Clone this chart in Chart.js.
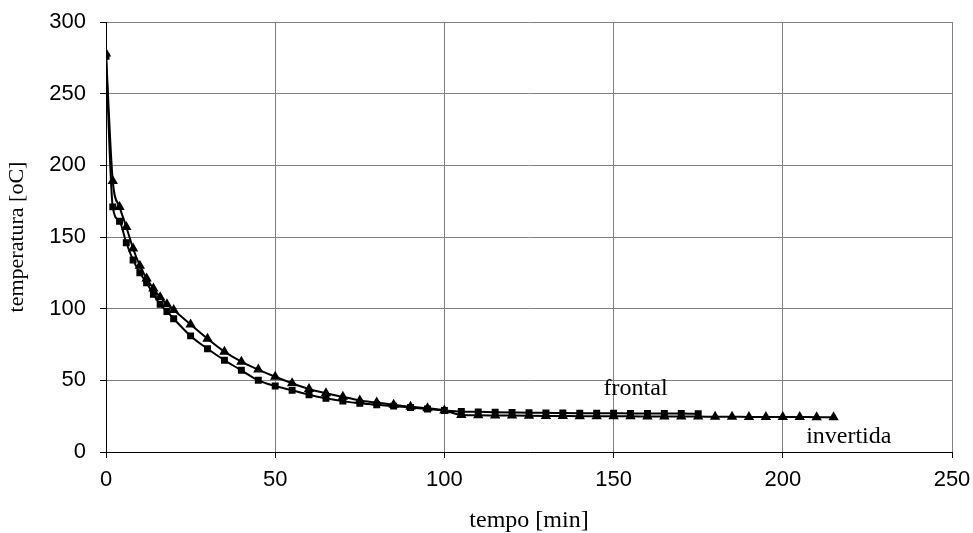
<!DOCTYPE html>
<html>
<head>
<meta charset="utf-8">
<script src="https://cdn.jsdelivr.net/npm/chart.js@4.4.1/dist/chart.umd.min.js"></script>
<style>
    body { margin: 0; background: #fff; }
    #wrap { width: 973px; height: 533px; position: relative; }
</style>
</head>
<body>
<div id="wrap"><canvas id="coolingChart"></canvas></div>
<script>
// tempo [min] / temperatura [oC]
const frontalTime = [0, 2, 4, 6, 8, 10, 12, 14, 16, 18, 20, 25, 30, 35, 40, 45, 50, 55, 60, 65, 70, 75, 80, 85, 90, 95, 100,
    105, 110, 115, 120, 125, 130, 135, 140, 145, 150, 155, 160, 165, 170, 175];
const frontalTemp = [276, 171, 161, 146, 134, 125, 118, 110, 103, 98, 93, 81, 72, 64, 57, 50, 46, 43, 40, 37.5, 35.5, 34, 33, 32, 31, 30, 29,
    28.2, 28, 27.8, 27.6, 27.4, 27.3, 27.2, 27.1, 27, 27, 26.9, 26.9, 26.8, 26.8, 26.7];

const invertidaTime = [0, 2, 4, 6, 8, 10, 12, 14, 16, 18, 20, 25, 30, 35, 40, 45, 50, 55, 60, 65, 70, 75, 80, 85, 90, 95, 100,
    105, 110, 115, 120, 125, 130, 135, 140, 145, 150, 155, 160, 165, 170, 175, 180, 185, 190, 195, 200, 205, 210, 215];
const invertidaTemp = [278, 189, 171, 157, 142, 130, 121, 114, 108, 103, 99, 89, 79, 70, 63, 57.5, 52.5, 48, 44, 41, 38.5, 36, 34.5, 33, 31.5, 30.5, 29,
    25.8, 25.6, 25.5, 25.4, 25.3, 25.2, 25.1, 25, 25, 24.9, 24.9, 24.8, 24.8, 24.7, 24.7, 24.6, 24.6, 24.5, 24.5, 24.4, 24.4, 24.3, 24.3];

const xTicks = [0, 50, 100, 150, 200, 250];
const yTicks = [0, 50, 100, 150, 200, 250, 300];

function toPoints(xs, ys) {
    return xs.map((x, i) => ({ x: x, y: ys[i] }));
}

const serif = '"Liberation Serif", "Times New Roman", serif';
const sans = '"Liberation Sans", Arial, sans-serif';

// series names written next to the curves
const curveLabels = {
    id: 'curveLabels',
    afterDatasetsDraw(chart) {
        const c = chart.ctx;
        const sx = chart.scales.x, sy = chart.scales.y;
        c.save();
        c.fillStyle = '#000';
        c.font = '24px ' + serif;
        c.textAlign = 'center';
        c.textBaseline = 'middle';
        c.fillText('frontal', sx.getPixelForValue(156.5), sy.getPixelForValue(44.5));
        c.fillText('invertida', sx.getPixelForValue(219.5), sy.getPixelForValue(11));
        c.restore();
    }
};

var ctx = document.getElementById('coolingChart').getContext('2d');

var coolingChart = new Chart(ctx, {
    type: 'line',
    data: {
        datasets: [{
            label: 'frontal',
            data: toPoints(frontalTime, frontalTemp),
            borderColor: '#000',
            backgroundColor: '#000',
            borderWidth: 2,
            pointStyle: 'rect',
            pointRadius: 3.5,
            cubicInterpolationMode: 'monotone',
            fill: false
        }, {
            label: 'invertida',
            data: toPoints(invertidaTime, invertidaTemp),
            borderColor: '#000',
            backgroundColor: '#000',
            borderWidth: 2,
            pointStyle: 'triangle',
            pointRadius: 4,
            cubicInterpolationMode: 'monotone',
            fill: false
        }]
    },
    options: {
        responsive: true,
        maintainAspectRatio: false,
        animation: false,
        layout: { padding: { left: 0, right: 21, top: 22, bottom: 0 } },
        plugins: {
            legend: { display: false },
            tooltip: { enabled: false }
        },
        scales: {
            x: {
                type: 'linear',
                min: 0,
                max: 250,
                afterBuildTicks: (scale) => { scale.ticks = xTicks.map(v => ({ value: v })); },
                afterFit: (scale) => {
                    scale.height = 81;
                    scale.paddingLeft = 0;
                    scale.paddingRight = 0;
                },
                grid: { color: '#808080', tickColor: '#000', tickLength: 6, lineWidth: 1 },
                border: { color: '#000', width: 1 },
                ticks: {
                    color: '#000',
                    padding: 9,
                    maxRotation: 0,
                    font: { family: sans, size: 22 }
                },
                title: {
                    display: true,
                    text: 'tempo [min]',
                    color: '#000',
                    padding: { top: 0, bottom: 0 },
                    font: { family: serif, size: 24, lineHeight: 1 }
                }
            },
            y: {
                min: 0,
                max: 300,
                afterBuildTicks: (scale) => { scale.ticks = yTicks.map(v => ({ value: v })); },
                afterFit: (scale) => {
                    scale.width = 106;
                    scale.paddingTop = 0;
                    scale.paddingBottom = 0;
                },
                grid: { color: '#808080', tickColor: '#000', tickLength: 6, lineWidth: 1 },
                border: { color: '#000', width: 1 },
                ticks: {
                    color: '#000',
                    padding: 14,
                    font: { family: sans, size: 22 }
                },
                title: {
                    display: true,
                    text: 'temperatura [oC]',
                    color: '#000',
                    padding: { top: 6, bottom: 0 },
                    font: { family: serif, size: 22, lineHeight: 1 }
                }
            }
        }
    },
    plugins: [curveLabels]
});
</script>
</body>
</html>
